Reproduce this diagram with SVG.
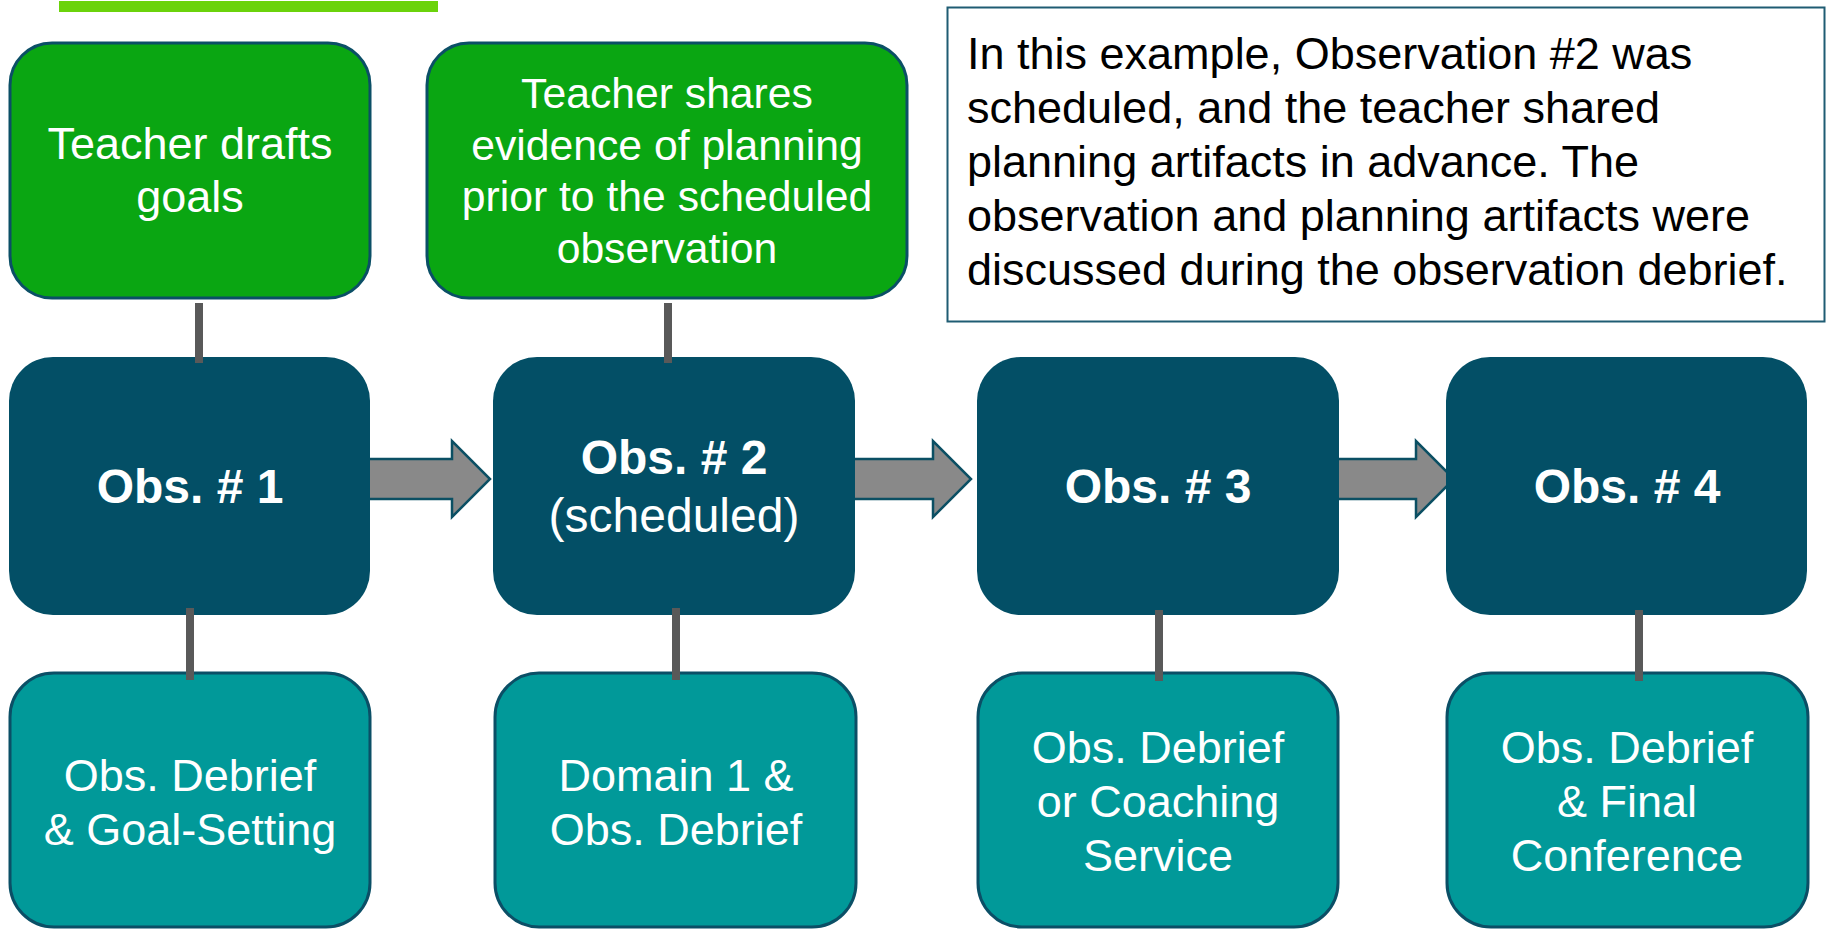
<svg xmlns="http://www.w3.org/2000/svg" width="1826" height="929" viewBox="0 0 1826 929">
<style>
text{font-family:"Liberation Sans",Arial,sans-serif;fill:#fff;text-anchor:middle}
.green{fill:#0AA612;stroke:#0B4F66;stroke-width:3}
.obs{fill:#034F66}
.teal{fill:#019999;stroke:#0B4F66;stroke-width:3}
.g1{font-size:45px}
.g{font-size:42.7px}
.t{font-size:45px}
.b{font-size:48px;font-weight:bold}
.r{font-size:48px}
.note{fill:#000;font-size:45px;text-anchor:start}
.arrow{fill:#898989;stroke:#0B4F63;stroke-width:2.5;stroke-linejoin:miter}
.link{stroke:#595959;stroke-width:8;fill:none}
</style>
<rect x="0" y="0" width="1826" height="929" fill="#fff"/>
<rect x="59" y="1" width="379" height="11" fill="#6BD30B"/>

<g id="note">
<rect x="947.5" y="7.5" width="877" height="314" fill="#fff" stroke="#1F5C73" stroke-width="2"/>
<text class="note" x="967" y="69">In this example, Observation #2 was</text>
<text class="note" x="967" y="123">scheduled, and the teacher shared</text>
<text class="note" x="967" y="177">planning artifacts in advance. The</text>
<text class="note" x="967" y="231">observation and planning artifacts were</text>
<text class="note" x="967" y="285">discussed during the observation debrief.</text>
</g>

<g id="arrows">
<polygon class="arrow" points="368,459 452,459 452,441 490,479 452,517 452,499 368,499"/>
<polygon class="arrow" points="853,459 933,459 933,441 971,479 933,517 933,499 853,499"/>
<polygon class="arrow" points="1337,459 1416,459 1416,441 1454,479 1416,517 1416,499 1337,499"/>
</g>

<g id="goal-draft">
<rect class="green" x="10" y="43" width="360" height="255" rx="42"/>
<text class="g1" x="190" y="159">Teacher drafts</text>
<text class="g1" x="190" y="212">goals</text>
</g>
<g id="evidence">
<rect class="green" x="427" y="43" width="480" height="255" rx="42"/>
<text class="g" x="667" y="108">Teacher shares</text>
<text class="g" x="667" y="160">evidence of planning</text>
<text class="g" x="667" y="211">prior to the scheduled</text>
<text class="g" x="667" y="263">observation</text>
</g>

<g id="obs1">
<rect class="obs" x="9" y="357" width="361" height="258" rx="44"/>
<text class="b" x="190" y="503">Obs. # 1</text>
</g>
<g id="obs2">
<rect class="obs" x="493" y="357" width="362" height="258" rx="44"/>
<text class="b" x="674" y="474">Obs. # 2</text>
<text class="r" x="674" y="532">(scheduled)</text>
</g>
<g id="obs3">
<rect class="obs" x="977" y="357" width="362" height="258" rx="44"/>
<text class="b" x="1158" y="503">Obs. # 3</text>
</g>
<g id="obs4">
<rect class="obs" x="1446" y="357" width="361" height="258" rx="44"/>
<text class="b" x="1627" y="503">Obs. # 4</text>
</g>

<g id="debrief1">
<rect class="teal" x="10" y="673" width="360" height="254" rx="44"/>
<text class="t" x="190" y="791">Obs. Debrief</text>
<text class="t" x="190" y="845">&amp; Goal-Setting</text>
</g>
<g id="debrief2">
<rect class="teal" x="495" y="673" width="361" height="254" rx="44"/>
<text class="t" x="676" y="791">Domain 1 &amp;</text>
<text class="t" x="676" y="845">Obs. Debrief</text>
</g>
<g id="debrief3">
<rect class="teal" x="978" y="673" width="360" height="254" rx="44"/>
<text class="t" x="1158" y="763">Obs. Debrief</text>
<text class="t" x="1158" y="817">or Coaching</text>
<text class="t" x="1158" y="871">Service</text>
</g>
<g id="debrief4">
<rect class="teal" x="1447" y="673" width="361" height="254" rx="44"/>
<text class="t" x="1627" y="763">Obs. Debrief</text>
<text class="t" x="1627" y="817">&amp; Final</text>
<text class="t" x="1627" y="871">Conference</text>
</g>

<g id="connectors">
<line class="link" x1="199" y1="303" x2="199" y2="363"/>
<line class="link" x1="668" y1="303" x2="668" y2="363"/>
<line class="link" x1="190" y1="608" x2="190" y2="680"/>
<line class="link" x1="676" y1="608" x2="676" y2="680"/>
<line class="link" x1="1159" y1="610" x2="1159" y2="681"/>
<line class="link" x1="1639" y1="610" x2="1639" y2="681"/>
</g>
</svg>
